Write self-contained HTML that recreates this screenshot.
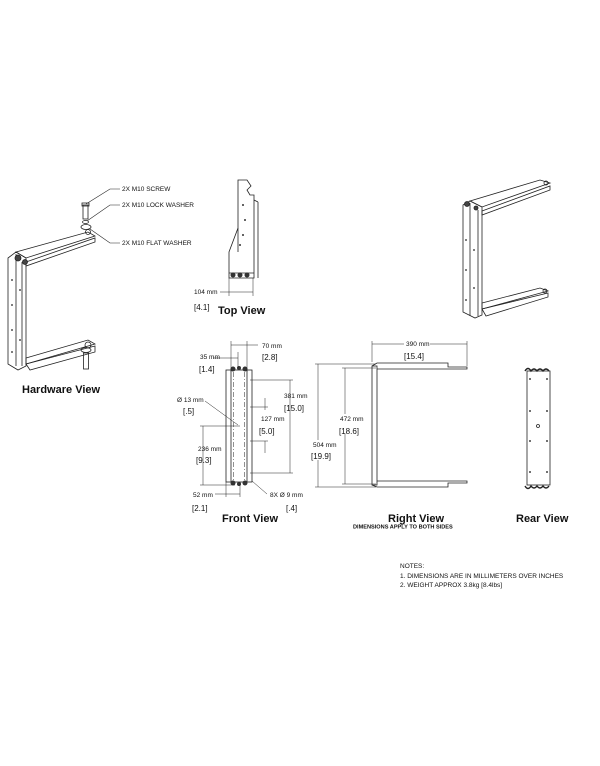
<!DOCTYPE html>
<html><head><style>
body{margin:0;background:#fff}
svg{display:block}
text{font-family:"Liberation Sans",Arial,sans-serif;fill:#111;stroke:none}
.s{font-size:6.5px}
.t{font-size:11px;font-weight:bold}
.b{font-size:8px}
</style></head><body>
<svg width="600" height="766" viewBox="0 0 600 766" xmlns="http://www.w3.org/2000/svg" fill="none" stroke="#222" stroke-width="0.8">
<!-- Hardware view -->
<g>
<polygon points="8,258 16,252 26,258 26,366 18,370 8,364"/>
<line x1="16" y1="254" x2="16" y2="366"/>
<line x1="22" y1="262" x2="22" y2="366"/>
<polygon points="16,252 88,232 95,236 26,258"/>
<polygon points="26,262 95,238 95,242 26,266"/>
<polygon points="26,358 88,340 95,344 26,364"/>
<polygon points="26,364 95,346 95,352 30,370"/>
<circle cx="18" cy="258" r="3" fill="#444"/><circle cx="25" cy="262" r="2.5" fill="#444"/>
<circle cx="88" cy="232" r="2.5"/><circle cx="88" cy="345" r="3"/>
<g fill="#555" stroke="none"><circle cx="12" cy="280" r="1"/><circle cx="12" cy="305" r="1"/><circle cx="12" cy="330" r="1"/><circle cx="12" cy="352" r="1"/><circle cx="20" cy="290" r="1"/><circle cx="20" cy="340" r="1"/></g>
<rect x="83" y="205" width="5" height="14"/><rect x="82" y="203" width="7" height="3"/>
<ellipse cx="85.5" cy="222" rx="3" ry="1.5"/><ellipse cx="86" cy="227" rx="5" ry="2.5"/>
<ellipse cx="86" cy="350" rx="5" ry="2.5"/><rect x="83.5" y="353" width="5" height="16"/>
<polyline points="86,204 110,189 120,189" stroke-width="0.6"/>
<polyline points="87,221 110,205 120,205" stroke-width="0.6"/>
<polyline points="90,229 110,243 120,243" stroke-width="0.6"/>
</g>
<text class="s" x="122" y="191">2X M10 SCREW</text>
<text class="s" x="122" y="207">2X M10 LOCK WASHER</text>
<text class="s" x="122" y="245">2X M10 FLAT WASHER</text>
<text class="t" x="22" y="393">Hardware View</text>

<!-- Top view -->
<polygon points="238,180 247,180 251,186 247,190 250,195 254,195 254,278 229,278 229,252 238,228"/>
<line x1="254" y1="200" x2="258" y2="202"/><line x1="258" y1="202" x2="258" y2="278"/>
<line x1="238" y1="228" x2="238" y2="252"/>
<line x1="229" y1="273" x2="254" y2="273"/>
<g fill="#333" stroke="none"><circle cx="233" cy="275" r="2.5"/><circle cx="240" cy="275" r="2.5"/><circle cx="247" cy="275" r="2.5"/><circle cx="243" cy="205" r="1"/><circle cx="243" cy="235" r="1"/><circle cx="240" cy="245" r="1"/><circle cx="245" cy="220" r="1"/></g>
<line x1="229" y1="278" x2="229" y2="296" stroke-width="0.5"/><line x1="253" y1="278" x2="253" y2="296" stroke-width="0.5"/>
<line x1="220" y1="292" x2="253" y2="292" stroke-width="0.5"/>
<text class="s" x="194" y="294">104 mm</text>
<text class="b" x="194" y="310">[4.1]</text>
<text class="t" x="218" y="314">Top View</text>

<!-- Front view -->
<rect x="226" y="370" width="26" height="112"/>
<line x1="231" y1="370" x2="231" y2="482"/><line x1="247" y1="370" x2="247" y2="482"/>
<line x1="233.5" y1="372" x2="233.5" y2="480" stroke-dasharray="5,2,1,2" stroke-width="0.5"/>
<line x1="244.5" y1="372" x2="244.5" y2="480" stroke-dasharray="5,2,1,2" stroke-width="0.5"/>
<g fill="#333" stroke="none"><circle cx="233" cy="369" r="2.5"/><circle cx="239" cy="368" r="2"/><circle cx="245" cy="369" r="2.5"/><circle cx="233" cy="483" r="2.5"/><circle cx="239" cy="484" r="2"/><circle cx="245" cy="483" r="2.5"/></g>
<g stroke-width="0.5"><line x1="231" y1="341" x2="231" y2="372"/><line x1="247" y1="341" x2="247" y2="372"/><line x1="231" y1="345" x2="258" y2="345"/>
<line x1="213" y1="358" x2="238" y2="358"/><line x1="238" y1="352" x2="238" y2="368"/>
<line x1="250" y1="380" x2="293" y2="380"/><line x1="250" y1="473" x2="293" y2="473"/><line x1="290" y1="380" x2="290" y2="473"/>
<line x1="265" y1="398" x2="265" y2="410"/><line x1="250" y1="407" x2="268" y2="407"/><line x1="250" y1="441" x2="268" y2="441"/><line x1="265" y1="441" x2="265" y2="453"/>
<line x1="200" y1="426" x2="240" y2="426"/><line x1="200" y1="485" x2="235" y2="485"/><line x1="203" y1="426" x2="203" y2="485"/>
<line x1="226" y1="482" x2="226" y2="497"/><line x1="240" y1="482" x2="240" y2="497"/><line x1="215" y1="494" x2="240" y2="494"/>
<line x1="205" y1="401" x2="238" y2="425"/><line x1="252" y1="481" x2="267" y2="494"/></g>
<text class="s" x="200" y="359">35 mm</text>
<text class="b" x="199" y="372">[1.4]</text>
<text class="s" x="262" y="348">70 mm</text>
<text class="b" x="262" y="360">[2.8]</text>
<text class="s" x="177" y="402">Ø 13 mm</text>
<text class="b" x="183" y="414">[.5]</text>
<text class="s" x="284" y="398">381 mm</text>
<text class="b" x="284" y="411">[15.0]</text>
<text class="s" x="261" y="421">127 mm</text>
<text class="b" x="259" y="434">[5.0]</text>
<text class="s" x="198" y="451">236 mm</text>
<text class="b" x="196" y="463">[9.3]</text>
<text class="s" x="193" y="497">52 mm</text>
<text class="b" x="192" y="511">[2.1]</text>
<text class="s" x="270" y="497">8X Ø 9 mm</text>
<text class="b" x="286" y="511">[.4]</text>
<text class="t" x="222" y="522">Front View</text>

<!-- Right view -->
<rect x="372" y="366" width="5" height="119"/>
<polyline points="372,366 377,363 448,363 448,367 467,367 467,369 377,369"/>
<polyline points="372,485 377,487 448,487 448,483 467,483 467,481 377,481"/>
<g stroke-width="0.5"><line x1="372" y1="341" x2="372" y2="362"/><line x1="467" y1="341" x2="467" y2="366"/><line x1="372" y1="344" x2="467" y2="344"/>
<line x1="315" y1="364" x2="376" y2="364"/><line x1="315" y1="487" x2="376" y2="487"/><line x1="318" y1="364" x2="318" y2="487"/>
<line x1="342" y1="368" x2="376" y2="368"/><line x1="342" y1="484" x2="376" y2="484"/><line x1="345" y1="368" x2="345" y2="484"/></g>
<rect x="404" y="339" width="26" height="7" fill="#fff" stroke="none"/>
<text class="s" x="406" y="346">390 mm</text>
<text class="b" x="404" y="359">[15.4]</text>
<rect x="338" y="414" width="32" height="20" fill="#fff" stroke="none"/>
<text class="s" x="340" y="421">472 mm</text>
<text class="b" x="339" y="434">[18.6]</text>
<rect x="311" y="440" width="30" height="20" fill="#fff" stroke="none"/>
<text class="s" x="313" y="447">504 mm</text>
<text class="b" x="311" y="459">[19.9]</text>
<text class="t" x="388" y="522">Right View</text>
<text x="353" y="528.5" style="font-size:5.6px;font-weight:bold">DIMENSIONS APPLY TO BOTH SIDES</text>

<!-- Rear view -->
<rect x="527" y="371" width="23" height="114"/>
<path d="M525,371 q3,-5 6,0 q3,-4 6,0 q3,-4 6,0 q3,-4 6,0 M525,486 q3,5 6,0 q3,4 6,0 q3,4 6,0 q3,4 6,0" stroke-width="1.4"/>
<g fill="#444" stroke="none"><circle cx="530" cy="379" r="1"/><circle cx="547" cy="379" r="1"/><circle cx="530" cy="411" r="1"/><circle cx="547" cy="411" r="1"/><circle cx="530" cy="441" r="1"/><circle cx="547" cy="441" r="1"/><circle cx="530" cy="472" r="1"/><circle cx="547" cy="472" r="1"/></g>
<circle cx="538" cy="426" r="1.5"/>
<text class="t" x="516" y="522">Rear View</text>

<!-- iso right -->
<polygon points="463,205 470,201 482,207 482,315 475,318 463,312"/>
<line x1="470" y1="203" x2="470" y2="316"/><line x1="478" y1="210" x2="478" y2="316"/>
<polygon points="470,201 540,180 550,183 482,207"/>
<polygon points="482,211 550,186 550,190 482,215"/>
<polygon points="482,303 540,288 548,291 482,309"/>
<polygon points="482,309 548,293 548,297 486,316"/>
<circle cx="467" cy="204" r="2.5" fill="#444"/><circle cx="476" cy="208" r="2" fill="#444"/>
<circle cx="546" cy="183" r="2"/><circle cx="545" cy="291" r="2"/>
<g fill="#555" stroke="none"><circle cx="466" cy="240" r="1"/><circle cx="466" cy="270" r="1"/><circle cx="466" cy="300" r="1"/><circle cx="474" cy="250" r="1"/><circle cx="474" cy="288" r="1"/></g>

<!-- notes -->
<text class="s" x="400" y="568">NOTES:</text>
<text class="s" x="400" y="578">1. DIMENSIONS ARE IN MILLIMETERS OVER INCHES</text>
<text class="s" x="400" y="587">2. WEIGHT APPROX 3.8kg [8.4lbs]</text>
</svg>
</body></html>
